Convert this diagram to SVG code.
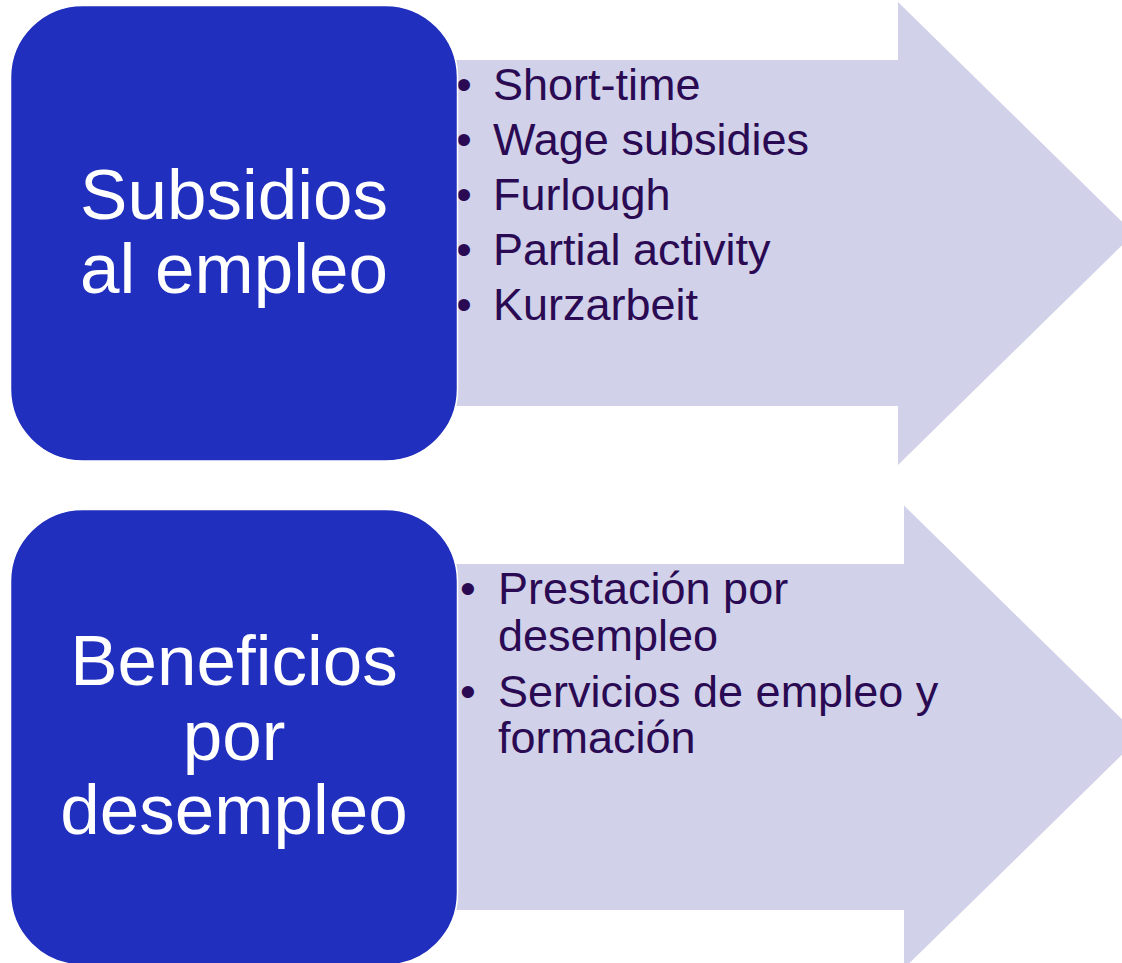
<svg xmlns="http://www.w3.org/2000/svg" width="1122" height="963" viewBox="0 0 1122 963">
<style>
.arrow{fill:#D1D1E9;}
.box{fill:#202FBD;stroke:#FFFFFF;stroke-width:1.5;}
.title{font-family:"Liberation Sans",Arial,sans-serif;font-size:71px;fill:#FFFFFF;text-anchor:middle;}
.item{font-family:"Liberation Sans",Arial,sans-serif;font-size:45px;fill:#2A0A52;}
</style>
<rect width="1122" height="963" fill="#FFFFFF"/>
<g id="connectors">
<polygon id="arrow1" class="arrow" points="455,60 898,60 898,2 1134,233.5 898,465 898,406 455,406"/>
<polygon id="arrow2" class="arrow" points="455,564 904,564 904,505.5 1140,737 904,968.5 904,910 455,910"/>
</g>
<g id="list1">
<text class="item" x="456" y="100">•</text>
<text class="item" x="456" y="155">•</text>
<text class="item" x="456" y="210">•</text>
<text class="item" x="456" y="265">•</text>
<text class="item" x="456" y="320">•</text>
<text class="item" x="493" y="100">Short-time</text>
<text class="item" x="493" y="155">Wage subsidies</text>
<text class="item" x="493" y="210">Furlough</text>
<text class="item" x="493" y="265">Partial activity</text>
<text class="item" x="493" y="320">Kurzarbeit</text>
</g>
<g id="list2">
<text class="item" x="460" y="604">•</text>
<text class="item" x="460" y="707">•</text>
<text class="item" x="498" y="604">Prestación por</text>
<text class="item" x="498" y="651">desempleo</text>
<text class="item" x="498" y="707">Servicios de empleo y</text>
<text class="item" x="498" y="753">formación</text>
</g>
<g id="node1">
<rect class="box" x="10.5" y="5.5" width="447" height="455.5" rx="72" ry="72"/>
<text class="title" x="234" y="218.5">Subsidios</text>
<text class="title" x="234" y="293">al empleo</text>
</g>
<g id="node2">
<rect class="box" x="10.5" y="509.5" width="447" height="455.5" rx="72" ry="72"/>
<text class="title" x="234" y="685">Beneficios</text>
<text class="title" x="234" y="759.5">por</text>
<text class="title" x="234" y="834">desempleo</text>
</g>
</svg>
